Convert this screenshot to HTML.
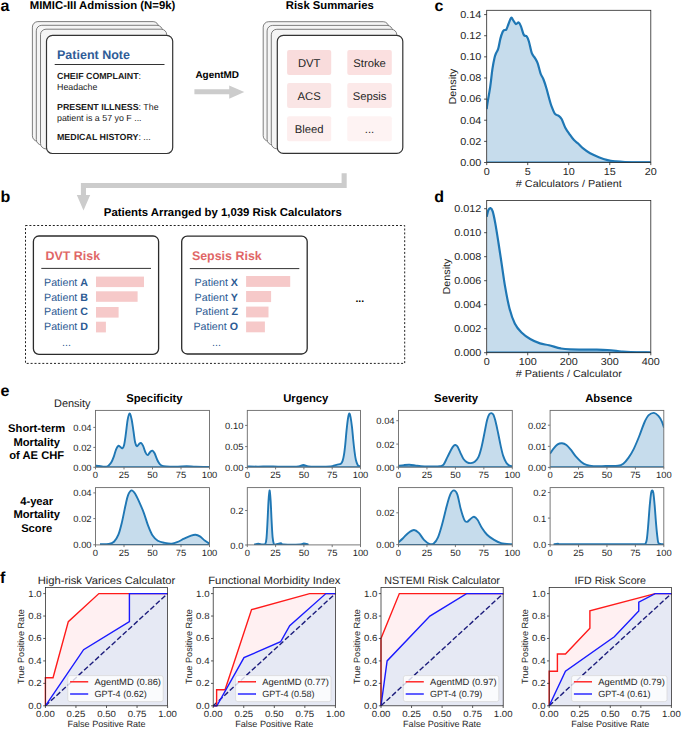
<!DOCTYPE html>
<html><head><meta charset="utf-8"><title>AgentMD figure</title>
<style>
html,body{margin:0;padding:0;background:#fff;}
body{width:685px;height:733px;overflow:hidden;}
svg{display:block;font-family:"Liberation Sans", sans-serif;text-rendering:geometricPrecision;}
</style></head>
<body>
<svg width="685" height="733" viewBox="0 0 685 733">
<rect width="685" height="733" fill="#fff"/>
<text x="0.60" y="10.60" font-size="16" font-weight="bold" fill="#000">a</text>
<text x="29.70" y="8.80" font-size="11.36" font-weight="bold" fill="#000">MIMIC-III Admission (N=9k)</text>
<text x="285.80" y="8.80" font-size="11.31" font-weight="bold" fill="#000">Risk Summaries</text>
<rect x="32.40" y="21.60" width="126.20" height="119.70" rx="5.5" fill="#f5f5f5" stroke="#707070" stroke-width="0.9"/>
<rect x="36.30" y="25.30" width="126.20" height="119.70" rx="5.5" fill="#f5f5f5" stroke="#707070" stroke-width="0.9"/>
<rect x="40.50" y="29.20" width="126.20" height="119.70" rx="5.5" fill="#f5f5f5" stroke="#707070" stroke-width="0.9"/>
<rect x="46.50" y="35.30" width="126.20" height="118.20" rx="6" fill="#fff" stroke="#333" stroke-width="1.2"/>
<rect x="263.20" y="21.70" width="125.50" height="119.50" rx="5.5" fill="#f5f5f5" stroke="#707070" stroke-width="0.9"/>
<rect x="267.10" y="25.40" width="125.50" height="119.50" rx="5.5" fill="#f5f5f5" stroke="#707070" stroke-width="0.9"/>
<rect x="271.30" y="29.30" width="125.50" height="119.50" rx="5.5" fill="#f5f5f5" stroke="#707070" stroke-width="0.9"/>
<rect x="277.30" y="35.40" width="125.50" height="118.00" rx="6" fill="#fff" stroke="#333" stroke-width="1.2"/>
<text x="57.00" y="58.80" font-size="12.5" font-weight="bold" fill="#2f5c97">Patient Note</text>
<line x1="54.70" y1="64.50" x2="164.50" y2="64.50" stroke="#333" stroke-width="1"/>
<text x="57" y="79" font-size="8.85" fill="#1a1a1a"><tspan font-weight="bold">CHEIF COMPLAINT</tspan>:</text>
<text x="57.00" y="89.90" font-size="8.85" fill="#1a1a1a">Headache</text>
<text x="57" y="109.7" font-size="8.85" fill="#1a1a1a"><tspan font-weight="bold">PRESENT ILLNESS</tspan>: The</text>
<text x="57.00" y="120.70" font-size="8.85" fill="#1a1a1a">patient is a 57 yo F ...</text>
<text x="57" y="139.8" font-size="8.85" fill="#1a1a1a"><tspan font-weight="bold">MEDICAL HISTORY</tspan>: ...</text>
<rect x="287.10" y="50.00" width="44.10" height="25.10" rx="2" fill="#f9dcdc" stroke="none" stroke-width="1"/>
<text x="309.15" y="66.55" font-size="11.25" fill="#262626" text-anchor="middle">DVT</text>
<rect x="347.30" y="50.00" width="44.50" height="25.10" rx="2" fill="#fbe0e0" stroke="none" stroke-width="1"/>
<text x="369.55" y="66.55" font-size="11.25" fill="#262626" text-anchor="middle">Stroke</text>
<rect x="287.10" y="83.00" width="44.10" height="25.00" rx="2" fill="#fae5e5" stroke="none" stroke-width="1"/>
<text x="309.15" y="99.50" font-size="11.25" fill="#262626" text-anchor="middle">ACS</text>
<rect x="347.30" y="83.00" width="44.50" height="25.00" rx="2" fill="#fce9e9" stroke="none" stroke-width="1"/>
<text x="369.55" y="99.50" font-size="11.25" fill="#262626" text-anchor="middle">Sepsis</text>
<rect x="287.10" y="116.20" width="44.10" height="25.10" rx="2" fill="#fdeeee" stroke="none" stroke-width="1"/>
<text x="309.15" y="132.75" font-size="11.25" fill="#262626" text-anchor="middle">Bleed</text>
<rect x="347.30" y="116.20" width="44.50" height="25.10" rx="2" fill="#fef3f3" stroke="none" stroke-width="1"/>
<text x="369.55" y="132.75" font-size="11.25" fill="#262626" text-anchor="middle">...</text>
<text x="195.40" y="78.30" font-size="9.95" font-weight="bold" fill="#000">AgentMD</text>
<path d="M194.4,89.3 L229.2,89.3 L229.2,85.6 L244.3,92.1 L229.2,98.7 L229.2,94.3 L194.4,94.3 Z" fill="#cccccc"/>
<path d="M341.6,173.3 L346.7,173.3 L346.7,187.9 L86.0,187.9 L86.0,195.0 L90.2,195.0 L83.5,210.4 L76.8,195.0 L80.9,195.0 L80.9,183.0 L341.6,183.0 Z" fill="#cccccc"/>
<text x="0.60" y="202.20" font-size="16" font-weight="bold" fill="#000">b</text>
<text x="103.80" y="216.30" font-size="11.39" font-weight="bold" fill="#000">Patients Arranged by 1,039 Risk Calculators</text>
<rect x="25.50" y="225.50" width="379.20" height="137.90" rx="0" fill="none" stroke="#222" stroke-width="1" stroke-dasharray="2.0,1.9"/>
<rect x="33.40" y="236.00" width="125.20" height="118.30" rx="5.5" fill="#fff" stroke="#2b2b2b" stroke-width="1.3"/>
<text x="45.50" y="259.90" font-size="12.45" font-weight="bold" fill="#e06666">DVT Risk</text>
<line x1="41.30" y1="268.40" x2="151.00" y2="268.40" stroke="#333" stroke-width="1"/>
<text x="88.00" y="285.90" font-size="10.7" fill="#2c5a93" text-anchor="end">Patient <tspan font-weight="bold">A</tspan></text>
<rect x="96.00" y="276.60" width="48.00" height="10.50" rx="0" fill="#f6c9c9" stroke="none" stroke-width="1"/>
<text x="88.00" y="300.50" font-size="10.7" fill="#2c5a93" text-anchor="end">Patient <tspan font-weight="bold">B</tspan></text>
<rect x="96.00" y="291.30" width="41.60" height="10.50" rx="0" fill="#f6c9c9" stroke="none" stroke-width="1"/>
<text x="88.00" y="315.30" font-size="10.7" fill="#2c5a93" text-anchor="end">Patient <tspan font-weight="bold">C</tspan></text>
<rect x="96.00" y="307.00" width="22.60" height="10.60" rx="0" fill="#f6c9c9" stroke="none" stroke-width="1"/>
<text x="88.00" y="330.10" font-size="10.7" fill="#2c5a93" text-anchor="end">Patient <tspan font-weight="bold">D</tspan></text>
<rect x="96.00" y="321.70" width="9.90" height="10.70" rx="0" fill="#f6c9c9" stroke="none" stroke-width="1"/>
<text x="62.00" y="345.80" font-size="10.7" fill="#2c5a93">...</text>
<rect x="181.70" y="236.10" width="125.50" height="117.90" rx="5.5" fill="#fff" stroke="#2b2b2b" stroke-width="1.3"/>
<text x="191.90" y="259.90" font-size="12.45" font-weight="bold" fill="#e06666">Sepsis Risk</text>
<line x1="189.80" y1="268.60" x2="299.30" y2="268.60" stroke="#333" stroke-width="1"/>
<text x="238.00" y="285.90" font-size="10.7" fill="#2c5a93" text-anchor="end">Patient <tspan font-weight="bold">X</tspan></text>
<rect x="246.10" y="276.00" width="44.10" height="10.90" rx="0" fill="#f6c9c9" stroke="none" stroke-width="1"/>
<text x="238.00" y="300.50" font-size="10.7" fill="#2c5a93" text-anchor="end">Patient <tspan font-weight="bold">Y</tspan></text>
<rect x="246.10" y="291.00" width="25.00" height="11.10" rx="0" fill="#f6c9c9" stroke="none" stroke-width="1"/>
<text x="238.00" y="315.30" font-size="10.7" fill="#2c5a93" text-anchor="end">Patient <tspan font-weight="bold">Z</tspan></text>
<rect x="246.10" y="306.60" width="22.40" height="10.80" rx="0" fill="#f6c9c9" stroke="none" stroke-width="1"/>
<text x="238.00" y="330.10" font-size="10.7" fill="#2c5a93" text-anchor="end">Patient <tspan font-weight="bold">O</tspan></text>
<rect x="246.10" y="321.50" width="18.80" height="10.80" rx="0" fill="#f6c9c9" stroke="none" stroke-width="1"/>
<text x="212.00" y="345.80" font-size="10.7" fill="#2c5a93">...</text>
<text x="355.40" y="302.30" font-size="10.5" font-weight="bold" fill="#000">...</text>
<text x="434.40" y="10.70" font-size="16" font-weight="bold" fill="#000">c</text>
<text x="434.20" y="202.00" font-size="16" font-weight="bold" fill="#000">d</text>
<clipPath id="c1"><rect x="486.70" y="10.30" width="164.10" height="152.20"/></clipPath>
<g clip-path="url(#c1)">
<path d="M486.70,109.00 C486.80,108.22 486.72,108.00 487.30,104.30 C487.88,100.60 489.35,92.65 490.20,86.80 C491.05,80.95 491.67,74.07 492.40,69.20 C493.13,64.33 493.98,60.27 494.60,57.60 C495.22,54.93 495.50,54.67 496.10,53.20 C496.70,51.73 497.48,51.23 498.20,48.80 C498.92,46.37 499.67,41.40 500.40,38.60 C501.13,35.80 501.98,33.42 502.60,32.00 C503.22,30.58 503.48,30.52 504.10,30.10 C504.72,29.68 505.57,30.52 506.30,29.50 C507.03,28.48 507.70,25.95 508.50,24.00 C509.30,22.05 510.30,18.42 511.10,17.80 C511.90,17.18 512.52,19.27 513.30,20.30 C514.08,21.33 514.90,23.63 515.80,24.00 C516.70,24.37 517.85,22.13 518.70,22.50 C519.55,22.87 520.05,24.13 520.90,26.20 C521.75,28.27 522.83,33.20 523.80,34.90 C524.77,36.60 525.85,35.30 526.70,36.40 C527.55,37.50 528.05,38.70 528.90,41.50 C529.75,44.30 530.83,50.52 531.80,53.20 C532.77,55.88 533.72,55.90 534.70,57.60 C535.68,59.30 536.72,60.73 537.70,63.40 C538.68,66.07 539.63,70.92 540.60,73.60 C541.57,76.28 542.53,77.07 543.50,79.50 C544.47,81.93 545.38,84.78 546.40,88.20 C547.42,91.62 548.77,97.07 549.60,100.00 C550.43,102.93 550.50,103.48 551.40,105.80 C552.30,108.12 553.78,112.23 555.00,113.90 C556.22,115.57 557.60,114.95 558.70,115.80 C559.80,116.65 560.50,117.02 561.60,119.00 C562.70,120.98 563.97,125.15 565.30,127.70 C566.63,130.25 568.15,132.23 569.60,134.30 C571.05,136.37 572.53,138.52 574.00,140.10 C575.47,141.68 576.93,142.45 578.40,143.80 C579.87,145.15 580.85,146.62 582.80,148.20 C584.75,149.78 587.43,151.80 590.10,153.30 C592.77,154.80 595.88,156.07 598.80,157.20 C601.72,158.33 604.92,159.42 607.60,160.10 C610.28,160.78 612.00,160.98 614.90,161.30 C617.80,161.62 619.02,161.82 625.00,162.00 C630.98,162.18 646.50,162.33 650.80,162.40 L650.80,162.50 L486.70,162.50 Z" fill="#c6dcec" stroke="none"/>
<line x1="486.70" y1="162.50" x2="650.80" y2="162.50" stroke="#1f77b4" stroke-width="2.2"/>
<path d="M486.70,109.00 C486.80,108.22 486.72,108.00 487.30,104.30 C487.88,100.60 489.35,92.65 490.20,86.80 C491.05,80.95 491.67,74.07 492.40,69.20 C493.13,64.33 493.98,60.27 494.60,57.60 C495.22,54.93 495.50,54.67 496.10,53.20 C496.70,51.73 497.48,51.23 498.20,48.80 C498.92,46.37 499.67,41.40 500.40,38.60 C501.13,35.80 501.98,33.42 502.60,32.00 C503.22,30.58 503.48,30.52 504.10,30.10 C504.72,29.68 505.57,30.52 506.30,29.50 C507.03,28.48 507.70,25.95 508.50,24.00 C509.30,22.05 510.30,18.42 511.10,17.80 C511.90,17.18 512.52,19.27 513.30,20.30 C514.08,21.33 514.90,23.63 515.80,24.00 C516.70,24.37 517.85,22.13 518.70,22.50 C519.55,22.87 520.05,24.13 520.90,26.20 C521.75,28.27 522.83,33.20 523.80,34.90 C524.77,36.60 525.85,35.30 526.70,36.40 C527.55,37.50 528.05,38.70 528.90,41.50 C529.75,44.30 530.83,50.52 531.80,53.20 C532.77,55.88 533.72,55.90 534.70,57.60 C535.68,59.30 536.72,60.73 537.70,63.40 C538.68,66.07 539.63,70.92 540.60,73.60 C541.57,76.28 542.53,77.07 543.50,79.50 C544.47,81.93 545.38,84.78 546.40,88.20 C547.42,91.62 548.77,97.07 549.60,100.00 C550.43,102.93 550.50,103.48 551.40,105.80 C552.30,108.12 553.78,112.23 555.00,113.90 C556.22,115.57 557.60,114.95 558.70,115.80 C559.80,116.65 560.50,117.02 561.60,119.00 C562.70,120.98 563.97,125.15 565.30,127.70 C566.63,130.25 568.15,132.23 569.60,134.30 C571.05,136.37 572.53,138.52 574.00,140.10 C575.47,141.68 576.93,142.45 578.40,143.80 C579.87,145.15 580.85,146.62 582.80,148.20 C584.75,149.78 587.43,151.80 590.10,153.30 C592.77,154.80 595.88,156.07 598.80,157.20 C601.72,158.33 604.92,159.42 607.60,160.10 C610.28,160.78 612.00,160.98 614.90,161.30 C617.80,161.62 619.02,161.82 625.00,162.00 C630.98,162.18 646.50,162.33 650.80,162.40" fill="none" stroke="#1f77b4" stroke-width="2.2" stroke-linejoin="round" stroke-linecap="butt"/>
</g>
<rect x="486.70" y="10.30" width="164.10" height="152.20" fill="none" stroke="#262626" stroke-width="0.8"/>
<line x1="484.10" y1="162.50" x2="486.70" y2="162.50" stroke="#262626" stroke-width="0.8"/>
<text x="481.30" y="165.85" font-size="10.09" fill="#262626" text-anchor="end" textLength="21.04" lengthAdjust="spacingAndGlyphs">0.00</text>
<line x1="484.10" y1="141.37" x2="486.70" y2="141.37" stroke="#262626" stroke-width="0.8"/>
<text x="481.30" y="144.72" font-size="10.09" fill="#262626" text-anchor="end" textLength="21.04" lengthAdjust="spacingAndGlyphs">0.02</text>
<line x1="484.10" y1="120.24" x2="486.70" y2="120.24" stroke="#262626" stroke-width="0.8"/>
<text x="481.30" y="123.59" font-size="10.09" fill="#262626" text-anchor="end" textLength="21.04" lengthAdjust="spacingAndGlyphs">0.04</text>
<line x1="484.10" y1="99.11" x2="486.70" y2="99.11" stroke="#262626" stroke-width="0.8"/>
<text x="481.30" y="102.46" font-size="10.09" fill="#262626" text-anchor="end" textLength="21.04" lengthAdjust="spacingAndGlyphs">0.06</text>
<line x1="484.10" y1="77.98" x2="486.70" y2="77.98" stroke="#262626" stroke-width="0.8"/>
<text x="481.30" y="81.33" font-size="10.09" fill="#262626" text-anchor="end" textLength="21.04" lengthAdjust="spacingAndGlyphs">0.08</text>
<line x1="484.10" y1="56.85" x2="486.70" y2="56.85" stroke="#262626" stroke-width="0.8"/>
<text x="481.30" y="60.20" font-size="10.09" fill="#262626" text-anchor="end" textLength="21.04" lengthAdjust="spacingAndGlyphs">0.10</text>
<line x1="484.10" y1="35.72" x2="486.70" y2="35.72" stroke="#262626" stroke-width="0.8"/>
<text x="481.30" y="39.07" font-size="10.09" fill="#262626" text-anchor="end" textLength="21.04" lengthAdjust="spacingAndGlyphs">0.12</text>
<line x1="484.10" y1="14.59" x2="486.70" y2="14.59" stroke="#262626" stroke-width="0.8"/>
<text x="481.30" y="17.94" font-size="10.09" fill="#262626" text-anchor="end" textLength="21.04" lengthAdjust="spacingAndGlyphs">0.14</text>
<line x1="486.70" y1="162.50" x2="486.70" y2="165.10" stroke="#262626" stroke-width="0.8"/>
<text x="486.70" y="174.60" font-size="10.09" fill="#262626" text-anchor="middle" textLength="6.01" lengthAdjust="spacingAndGlyphs">0</text>
<line x1="527.73" y1="162.50" x2="527.73" y2="165.10" stroke="#262626" stroke-width="0.8"/>
<text x="527.73" y="174.60" font-size="10.09" fill="#262626" text-anchor="middle" textLength="6.01" lengthAdjust="spacingAndGlyphs">5</text>
<line x1="568.75" y1="162.50" x2="568.75" y2="165.10" stroke="#262626" stroke-width="0.8"/>
<text x="568.75" y="174.60" font-size="10.09" fill="#262626" text-anchor="middle" textLength="12.02" lengthAdjust="spacingAndGlyphs">10</text>
<line x1="609.77" y1="162.50" x2="609.77" y2="165.10" stroke="#262626" stroke-width="0.8"/>
<text x="609.77" y="174.60" font-size="10.09" fill="#262626" text-anchor="middle" textLength="12.02" lengthAdjust="spacingAndGlyphs">15</text>
<line x1="650.80" y1="162.50" x2="650.80" y2="165.10" stroke="#262626" stroke-width="0.8"/>
<text x="650.80" y="174.60" font-size="10.09" fill="#262626" text-anchor="middle" textLength="12.02" lengthAdjust="spacingAndGlyphs">20</text>
<text x="568.80" y="187.20" font-size="10.09" fill="#262626" text-anchor="middle" textLength="105.93" lengthAdjust="spacingAndGlyphs"># Calculators / Patient</text>
<text x="0.00" y="0.00" font-size="10.09" fill="#262626" text-anchor="middle" textLength="35.93" lengthAdjust="spacingAndGlyphs" transform="translate(455.8,86.5) rotate(-90)">Density</text>
<clipPath id="c2"><rect x="486.70" y="200.50" width="164.10" height="152.20"/></clipPath>
<g clip-path="url(#c2)">
<path d="M486.70,216.80 C486.97,215.72 487.67,211.75 488.30,210.30 C488.93,208.85 489.77,207.92 490.50,208.10 C491.23,208.28 491.90,208.85 492.70,211.40 C493.50,213.95 494.33,218.13 495.30,223.40 C496.27,228.67 497.42,236.10 498.50,243.00 C499.58,249.90 500.70,257.53 501.80,264.80 C502.90,272.07 503.82,279.32 505.10,286.60 C506.38,293.88 507.87,302.32 509.50,308.50 C511.13,314.68 512.90,319.70 514.90,323.70 C516.90,327.70 518.95,329.95 521.50,332.50 C524.05,335.05 527.12,337.18 530.20,339.00 C533.28,340.82 536.87,342.37 540.00,343.40 C543.13,344.43 545.55,344.37 549.00,345.20 C552.45,346.03 557.20,347.70 560.70,348.40 C564.20,349.10 564.55,349.20 570.00,349.40 C575.45,349.60 587.15,349.50 593.40,349.60 C599.65,349.70 602.82,349.68 607.50,350.00 C612.18,350.32 617.62,351.15 621.50,351.50 C625.38,351.85 625.92,351.93 630.80,352.10 C635.68,352.27 647.47,352.43 650.80,352.50 L650.80,352.70 L486.70,352.70 Z" fill="#c6dcec" stroke="none"/>
<line x1="486.70" y1="352.70" x2="650.80" y2="352.70" stroke="#1f77b4" stroke-width="2.2"/>
<path d="M486.70,216.80 C486.97,215.72 487.67,211.75 488.30,210.30 C488.93,208.85 489.77,207.92 490.50,208.10 C491.23,208.28 491.90,208.85 492.70,211.40 C493.50,213.95 494.33,218.13 495.30,223.40 C496.27,228.67 497.42,236.10 498.50,243.00 C499.58,249.90 500.70,257.53 501.80,264.80 C502.90,272.07 503.82,279.32 505.10,286.60 C506.38,293.88 507.87,302.32 509.50,308.50 C511.13,314.68 512.90,319.70 514.90,323.70 C516.90,327.70 518.95,329.95 521.50,332.50 C524.05,335.05 527.12,337.18 530.20,339.00 C533.28,340.82 536.87,342.37 540.00,343.40 C543.13,344.43 545.55,344.37 549.00,345.20 C552.45,346.03 557.20,347.70 560.70,348.40 C564.20,349.10 564.55,349.20 570.00,349.40 C575.45,349.60 587.15,349.50 593.40,349.60 C599.65,349.70 602.82,349.68 607.50,350.00 C612.18,350.32 617.62,351.15 621.50,351.50 C625.38,351.85 625.92,351.93 630.80,352.10 C635.68,352.27 647.47,352.43 650.80,352.50" fill="none" stroke="#1f77b4" stroke-width="2.2" stroke-linejoin="round" stroke-linecap="butt"/>
</g>
<rect x="486.70" y="200.50" width="164.10" height="152.20" fill="none" stroke="#262626" stroke-width="0.8"/>
<line x1="484.10" y1="352.70" x2="486.70" y2="352.70" stroke="#262626" stroke-width="0.8"/>
<text x="481.30" y="356.05" font-size="10.09" fill="#262626" text-anchor="end" textLength="27.05" lengthAdjust="spacingAndGlyphs">0.000</text>
<line x1="484.10" y1="328.70" x2="486.70" y2="328.70" stroke="#262626" stroke-width="0.8"/>
<text x="481.30" y="332.05" font-size="10.09" fill="#262626" text-anchor="end" textLength="27.05" lengthAdjust="spacingAndGlyphs">0.002</text>
<line x1="484.10" y1="304.70" x2="486.70" y2="304.70" stroke="#262626" stroke-width="0.8"/>
<text x="481.30" y="308.05" font-size="10.09" fill="#262626" text-anchor="end" textLength="27.05" lengthAdjust="spacingAndGlyphs">0.004</text>
<line x1="484.10" y1="280.70" x2="486.70" y2="280.70" stroke="#262626" stroke-width="0.8"/>
<text x="481.30" y="284.05" font-size="10.09" fill="#262626" text-anchor="end" textLength="27.05" lengthAdjust="spacingAndGlyphs">0.006</text>
<line x1="484.10" y1="256.70" x2="486.70" y2="256.70" stroke="#262626" stroke-width="0.8"/>
<text x="481.30" y="260.05" font-size="10.09" fill="#262626" text-anchor="end" textLength="27.05" lengthAdjust="spacingAndGlyphs">0.008</text>
<line x1="484.10" y1="232.70" x2="486.70" y2="232.70" stroke="#262626" stroke-width="0.8"/>
<text x="481.30" y="236.05" font-size="10.09" fill="#262626" text-anchor="end" textLength="27.05" lengthAdjust="spacingAndGlyphs">0.010</text>
<line x1="484.10" y1="208.70" x2="486.70" y2="208.70" stroke="#262626" stroke-width="0.8"/>
<text x="481.30" y="212.05" font-size="10.09" fill="#262626" text-anchor="end" textLength="27.05" lengthAdjust="spacingAndGlyphs">0.012</text>
<line x1="486.70" y1="352.70" x2="486.70" y2="355.30" stroke="#262626" stroke-width="0.8"/>
<text x="486.70" y="364.60" font-size="10.09" fill="#262626" text-anchor="middle" textLength="6.01" lengthAdjust="spacingAndGlyphs">0</text>
<line x1="527.73" y1="352.70" x2="527.73" y2="355.30" stroke="#262626" stroke-width="0.8"/>
<text x="527.73" y="364.60" font-size="10.09" fill="#262626" text-anchor="middle" textLength="18.04" lengthAdjust="spacingAndGlyphs">100</text>
<line x1="568.75" y1="352.70" x2="568.75" y2="355.30" stroke="#262626" stroke-width="0.8"/>
<text x="568.75" y="364.60" font-size="10.09" fill="#262626" text-anchor="middle" textLength="18.04" lengthAdjust="spacingAndGlyphs">200</text>
<line x1="609.77" y1="352.70" x2="609.77" y2="355.30" stroke="#262626" stroke-width="0.8"/>
<text x="609.77" y="364.60" font-size="10.09" fill="#262626" text-anchor="middle" textLength="18.04" lengthAdjust="spacingAndGlyphs">300</text>
<line x1="650.80" y1="352.70" x2="650.80" y2="355.30" stroke="#262626" stroke-width="0.8"/>
<text x="650.80" y="364.60" font-size="10.09" fill="#262626" text-anchor="middle" textLength="18.04" lengthAdjust="spacingAndGlyphs">400</text>
<text x="568.80" y="377.20" font-size="10.09" fill="#262626" text-anchor="middle" textLength="105.93" lengthAdjust="spacingAndGlyphs"># Patients / Calculator</text>
<text x="0.00" y="0.00" font-size="10.09" fill="#262626" text-anchor="middle" textLength="35.93" lengthAdjust="spacingAndGlyphs" transform="translate(450.3,276.5) rotate(-90)">Density</text>
<text x="0.60" y="395.80" font-size="16" font-weight="bold" fill="#000">e</text>
<text x="54.00" y="407.00" font-size="10.95" fill="#1a1a1a">Density</text>
<text x="36.70" y="431.80" font-size="11.2" font-weight="bold" fill="#000" text-anchor="middle">Short-term</text>
<text x="36.70" y="445.70" font-size="11.2" font-weight="bold" fill="#000" text-anchor="middle">Mortality</text>
<text x="36.70" y="458.80" font-size="11.2" font-weight="bold" fill="#000" text-anchor="middle">of AE CHF</text>
<text x="36.70" y="504.50" font-size="11.2" font-weight="bold" fill="#000" text-anchor="middle">4-year</text>
<text x="36.70" y="518.40" font-size="11.2" font-weight="bold" fill="#000" text-anchor="middle">Mortality</text>
<text x="36.70" y="531.80" font-size="11.2" font-weight="bold" fill="#000" text-anchor="middle">Score</text>
<text x="154.40" y="402.20" font-size="11.3" font-weight="bold" fill="#000" text-anchor="middle">Specificity</text>
<text x="305.80" y="402.20" font-size="11.3" font-weight="bold" fill="#000" text-anchor="middle">Urgency</text>
<text x="456.10" y="402.20" font-size="11.3" font-weight="bold" fill="#000" text-anchor="middle">Severity</text>
<text x="608.75" y="402.20" font-size="11.3" font-weight="bold" fill="#000" text-anchor="middle">Absence</text>
<clipPath id="c3"><rect x="95.50" y="410.40" width="114.00" height="56.80"/></clipPath>
<g clip-path="url(#c3)">
<path d="M95.50,465.60 C96.08,465.67 97.75,465.83 99.00,466.00 C100.25,466.17 101.75,466.50 103.00,466.60 C104.25,466.70 105.58,466.77 106.50,466.60 C107.42,466.43 107.72,466.27 108.50,465.60 C109.28,464.93 110.30,464.13 111.20,462.60 C112.10,461.07 113.08,458.62 113.90,456.40 C114.72,454.18 115.37,451.05 116.10,449.30 C116.83,447.55 117.63,446.33 118.30,445.90 C118.97,445.47 119.43,446.30 120.10,446.70 C120.77,447.10 121.63,448.60 122.30,448.30 C122.97,448.00 123.52,447.25 124.10,444.90 C124.68,442.55 125.22,438.33 125.80,434.20 C126.38,430.07 126.97,423.57 127.60,420.10 C128.23,416.63 128.93,413.55 129.60,413.40 C130.27,413.25 130.97,416.32 131.60,419.20 C132.23,422.08 132.82,426.87 133.40,430.70 C133.98,434.53 134.52,439.62 135.10,442.20 C135.68,444.78 136.23,445.90 136.90,446.20 C137.57,446.50 138.43,444.55 139.10,444.00 C139.77,443.45 140.23,442.60 140.90,442.90 C141.57,443.20 142.37,444.28 143.10,445.80 C143.83,447.32 144.57,450.45 145.30,452.00 C146.03,453.55 146.68,455.10 147.50,455.10 C148.32,455.10 149.38,452.75 150.20,452.00 C151.02,451.25 151.67,450.38 152.40,450.60 C153.13,450.82 153.78,451.73 154.60,453.30 C155.42,454.87 156.40,458.15 157.30,460.00 C158.20,461.85 158.97,463.37 160.00,464.40 C161.03,465.43 161.83,465.80 163.50,466.20 C165.17,466.60 167.58,466.72 170.00,466.80 C172.42,466.88 175.22,466.78 178.00,466.70 C180.78,466.62 183.73,466.30 186.70,466.30 C189.67,466.30 192.00,466.60 195.80,466.70 C199.60,466.80 207.22,466.87 209.50,466.90 L209.50,467.20 L95.50,467.20 Z" fill="#c6dcec" stroke="none"/>
<line x1="95.50" y1="467.20" x2="209.50" y2="467.20" stroke="#1f77b4" stroke-width="1.9"/>
<path d="M95.50,465.60 C96.08,465.67 97.75,465.83 99.00,466.00 C100.25,466.17 101.75,466.50 103.00,466.60 C104.25,466.70 105.58,466.77 106.50,466.60 C107.42,466.43 107.72,466.27 108.50,465.60 C109.28,464.93 110.30,464.13 111.20,462.60 C112.10,461.07 113.08,458.62 113.90,456.40 C114.72,454.18 115.37,451.05 116.10,449.30 C116.83,447.55 117.63,446.33 118.30,445.90 C118.97,445.47 119.43,446.30 120.10,446.70 C120.77,447.10 121.63,448.60 122.30,448.30 C122.97,448.00 123.52,447.25 124.10,444.90 C124.68,442.55 125.22,438.33 125.80,434.20 C126.38,430.07 126.97,423.57 127.60,420.10 C128.23,416.63 128.93,413.55 129.60,413.40 C130.27,413.25 130.97,416.32 131.60,419.20 C132.23,422.08 132.82,426.87 133.40,430.70 C133.98,434.53 134.52,439.62 135.10,442.20 C135.68,444.78 136.23,445.90 136.90,446.20 C137.57,446.50 138.43,444.55 139.10,444.00 C139.77,443.45 140.23,442.60 140.90,442.90 C141.57,443.20 142.37,444.28 143.10,445.80 C143.83,447.32 144.57,450.45 145.30,452.00 C146.03,453.55 146.68,455.10 147.50,455.10 C148.32,455.10 149.38,452.75 150.20,452.00 C151.02,451.25 151.67,450.38 152.40,450.60 C153.13,450.82 153.78,451.73 154.60,453.30 C155.42,454.87 156.40,458.15 157.30,460.00 C158.20,461.85 158.97,463.37 160.00,464.40 C161.03,465.43 161.83,465.80 163.50,466.20 C165.17,466.60 167.58,466.72 170.00,466.80 C172.42,466.88 175.22,466.78 178.00,466.70 C180.78,466.62 183.73,466.30 186.70,466.30 C189.67,466.30 192.00,466.60 195.80,466.70 C199.60,466.80 207.22,466.87 209.50,466.90" fill="none" stroke="#1f77b4" stroke-width="1.9" stroke-linejoin="round" stroke-linecap="butt"/>
</g>
<rect x="95.50" y="410.40" width="114.00" height="56.80" fill="none" stroke="#6a6a6a" stroke-width="0.9"/>
<line x1="93.30" y1="467.30" x2="95.50" y2="467.30" stroke="#6a6a6a" stroke-width="0.9"/>
<text x="91.60" y="470.80" font-size="9.1" fill="#262626" text-anchor="end" textLength="18.26" lengthAdjust="spacingAndGlyphs">0.00</text>
<line x1="93.30" y1="447.40" x2="95.50" y2="447.40" stroke="#6a6a6a" stroke-width="0.9"/>
<text x="91.60" y="450.90" font-size="9.1" fill="#262626" text-anchor="end" textLength="18.26" lengthAdjust="spacingAndGlyphs">0.02</text>
<line x1="93.30" y1="427.40" x2="95.50" y2="427.40" stroke="#6a6a6a" stroke-width="0.9"/>
<text x="91.60" y="430.90" font-size="9.1" fill="#262626" text-anchor="end" textLength="18.26" lengthAdjust="spacingAndGlyphs">0.04</text>
<line x1="95.50" y1="467.20" x2="95.50" y2="469.40" stroke="#6a6a6a" stroke-width="0.9"/>
<text x="95.50" y="477.80" font-size="9.1" fill="#262626" text-anchor="middle" textLength="5.22" lengthAdjust="spacingAndGlyphs">0</text>
<line x1="124.00" y1="467.20" x2="124.00" y2="469.40" stroke="#6a6a6a" stroke-width="0.9"/>
<text x="124.00" y="477.80" font-size="9.1" fill="#262626" text-anchor="middle" textLength="10.43" lengthAdjust="spacingAndGlyphs">25</text>
<line x1="152.50" y1="467.20" x2="152.50" y2="469.40" stroke="#6a6a6a" stroke-width="0.9"/>
<text x="152.50" y="477.80" font-size="9.1" fill="#262626" text-anchor="middle" textLength="10.43" lengthAdjust="spacingAndGlyphs">50</text>
<line x1="181.00" y1="467.20" x2="181.00" y2="469.40" stroke="#6a6a6a" stroke-width="0.9"/>
<text x="181.00" y="477.80" font-size="9.1" fill="#262626" text-anchor="middle" textLength="10.43" lengthAdjust="spacingAndGlyphs">75</text>
<line x1="209.50" y1="467.20" x2="209.50" y2="469.40" stroke="#6a6a6a" stroke-width="0.9"/>
<text x="209.50" y="477.80" font-size="9.1" fill="#262626" text-anchor="middle" textLength="15.65" lengthAdjust="spacingAndGlyphs">100</text>
<clipPath id="c4"><rect x="247.30" y="410.40" width="113.20" height="56.80"/></clipPath>
<g clip-path="url(#c4)">
<path d="M247.30,466.40 C249.08,466.43 254.55,466.60 258.00,466.60 C261.45,466.60 264.67,466.40 268.00,466.40 C271.33,466.40 274.33,466.57 278.00,466.60 C281.67,466.63 286.58,466.63 290.00,466.60 C293.42,466.57 296.27,466.67 298.50,466.40 C300.73,466.13 301.73,465.00 303.40,465.00 C305.07,465.00 306.07,466.13 308.50,466.40 C310.93,466.67 314.30,466.60 318.00,466.60 C321.70,466.60 328.00,466.58 330.70,466.40 C333.40,466.22 333.10,465.80 334.20,465.50 C335.30,465.20 336.18,464.88 337.30,464.60 C338.42,464.32 340.02,464.42 340.90,463.80 C341.78,463.18 342.08,462.42 342.60,460.90 C343.12,459.38 343.55,457.50 344.00,454.70 C344.45,451.90 344.87,448.23 345.30,444.10 C345.73,439.97 346.15,434.20 346.60,429.90 C347.05,425.60 347.55,421.05 348.00,418.30 C348.45,415.55 348.87,413.55 349.30,413.40 C349.73,413.25 350.15,415.10 350.60,417.40 C351.05,419.70 351.55,423.35 352.00,427.20 C352.45,431.05 352.87,436.37 353.30,440.50 C353.73,444.63 354.17,448.75 354.60,452.00 C355.03,455.25 355.38,457.85 355.90,460.00 C356.42,462.15 357.03,463.83 357.70,464.90 C358.37,465.97 359.43,466.13 359.90,466.40 C360.37,466.67 360.40,466.48 360.50,466.50 L360.50,467.20 L247.30,467.20 Z" fill="#c6dcec" stroke="none"/>
<line x1="247.30" y1="467.20" x2="360.50" y2="467.20" stroke="#1f77b4" stroke-width="1.9"/>
<path d="M247.30,466.40 C249.08,466.43 254.55,466.60 258.00,466.60 C261.45,466.60 264.67,466.40 268.00,466.40 C271.33,466.40 274.33,466.57 278.00,466.60 C281.67,466.63 286.58,466.63 290.00,466.60 C293.42,466.57 296.27,466.67 298.50,466.40 C300.73,466.13 301.73,465.00 303.40,465.00 C305.07,465.00 306.07,466.13 308.50,466.40 C310.93,466.67 314.30,466.60 318.00,466.60 C321.70,466.60 328.00,466.58 330.70,466.40 C333.40,466.22 333.10,465.80 334.20,465.50 C335.30,465.20 336.18,464.88 337.30,464.60 C338.42,464.32 340.02,464.42 340.90,463.80 C341.78,463.18 342.08,462.42 342.60,460.90 C343.12,459.38 343.55,457.50 344.00,454.70 C344.45,451.90 344.87,448.23 345.30,444.10 C345.73,439.97 346.15,434.20 346.60,429.90 C347.05,425.60 347.55,421.05 348.00,418.30 C348.45,415.55 348.87,413.55 349.30,413.40 C349.73,413.25 350.15,415.10 350.60,417.40 C351.05,419.70 351.55,423.35 352.00,427.20 C352.45,431.05 352.87,436.37 353.30,440.50 C353.73,444.63 354.17,448.75 354.60,452.00 C355.03,455.25 355.38,457.85 355.90,460.00 C356.42,462.15 357.03,463.83 357.70,464.90 C358.37,465.97 359.43,466.13 359.90,466.40 C360.37,466.67 360.40,466.48 360.50,466.50" fill="none" stroke="#1f77b4" stroke-width="1.9" stroke-linejoin="round" stroke-linecap="butt"/>
</g>
<rect x="247.30" y="410.40" width="113.20" height="56.80" fill="none" stroke="#6a6a6a" stroke-width="0.9"/>
<line x1="245.10" y1="467.50" x2="247.30" y2="467.50" stroke="#6a6a6a" stroke-width="0.9"/>
<text x="243.40" y="471.00" font-size="9.1" fill="#262626" text-anchor="end" textLength="18.26" lengthAdjust="spacingAndGlyphs">0.00</text>
<line x1="245.10" y1="446.60" x2="247.30" y2="446.60" stroke="#6a6a6a" stroke-width="0.9"/>
<text x="243.40" y="450.10" font-size="9.1" fill="#262626" text-anchor="end" textLength="18.26" lengthAdjust="spacingAndGlyphs">0.05</text>
<line x1="245.10" y1="425.40" x2="247.30" y2="425.40" stroke="#6a6a6a" stroke-width="0.9"/>
<text x="243.40" y="428.90" font-size="9.1" fill="#262626" text-anchor="end" textLength="18.26" lengthAdjust="spacingAndGlyphs">0.10</text>
<line x1="247.30" y1="467.20" x2="247.30" y2="469.40" stroke="#6a6a6a" stroke-width="0.9"/>
<text x="247.30" y="477.80" font-size="9.1" fill="#262626" text-anchor="middle" textLength="5.22" lengthAdjust="spacingAndGlyphs">0</text>
<line x1="275.60" y1="467.20" x2="275.60" y2="469.40" stroke="#6a6a6a" stroke-width="0.9"/>
<text x="275.60" y="477.80" font-size="9.1" fill="#262626" text-anchor="middle" textLength="10.43" lengthAdjust="spacingAndGlyphs">25</text>
<line x1="303.90" y1="467.20" x2="303.90" y2="469.40" stroke="#6a6a6a" stroke-width="0.9"/>
<text x="303.90" y="477.80" font-size="9.1" fill="#262626" text-anchor="middle" textLength="10.43" lengthAdjust="spacingAndGlyphs">50</text>
<line x1="332.20" y1="467.20" x2="332.20" y2="469.40" stroke="#6a6a6a" stroke-width="0.9"/>
<text x="332.20" y="477.80" font-size="9.1" fill="#262626" text-anchor="middle" textLength="10.43" lengthAdjust="spacingAndGlyphs">75</text>
<line x1="360.50" y1="467.20" x2="360.50" y2="469.40" stroke="#6a6a6a" stroke-width="0.9"/>
<text x="360.50" y="477.80" font-size="9.1" fill="#262626" text-anchor="middle" textLength="15.65" lengthAdjust="spacingAndGlyphs">100</text>
<clipPath id="c5"><rect x="398.50" y="410.40" width="113.80" height="56.80"/></clipPath>
<g clip-path="url(#c5)">
<path d="M398.50,465.80 C399.42,465.68 402.18,465.27 404.00,465.10 C405.82,464.93 407.57,464.75 409.40,464.80 C411.23,464.85 413.07,465.15 415.00,465.40 C416.93,465.65 418.50,466.12 421.00,466.30 C423.50,466.48 426.85,466.50 430.00,466.50 C433.15,466.50 437.63,466.62 439.90,466.30 C442.17,465.98 442.35,466.13 443.60,464.60 C444.85,463.07 446.15,459.58 447.40,457.10 C448.65,454.62 450.07,451.57 451.10,449.70 C452.13,447.83 452.88,446.68 453.60,445.90 C454.32,445.12 454.75,444.88 455.40,445.00 C456.05,445.12 456.67,445.30 457.50,446.60 C458.33,447.90 459.40,450.73 460.40,452.80 C461.40,454.87 462.37,457.42 463.50,459.00 C464.63,460.58 465.97,461.62 467.20,462.30 C468.43,462.98 469.65,463.18 470.90,463.10 C472.15,463.02 473.45,462.80 474.70,461.80 C475.95,460.80 477.27,459.53 478.40,457.10 C479.53,454.67 480.47,451.33 481.50,447.20 C482.53,443.07 483.67,436.85 484.60,432.30 C485.53,427.75 486.32,422.90 487.10,419.90 C487.88,416.90 488.58,415.43 489.30,414.30 C490.02,413.17 490.70,413.00 491.40,413.10 C492.10,413.20 492.77,413.35 493.50,414.90 C494.23,416.45 495.02,419.30 495.80,422.40 C496.58,425.50 497.38,429.58 498.20,433.50 C499.02,437.42 499.87,442.17 500.70,445.90 C501.53,449.63 502.27,453.10 503.20,455.90 C504.13,458.70 505.27,461.08 506.30,462.70 C507.33,464.32 508.40,464.98 509.40,465.60 C510.40,466.22 511.82,466.27 512.30,466.40 L512.30,467.20 L398.50,467.20 Z" fill="#c6dcec" stroke="none"/>
<line x1="398.50" y1="467.20" x2="512.30" y2="467.20" stroke="#1f77b4" stroke-width="1.9"/>
<path d="M398.50,465.80 C399.42,465.68 402.18,465.27 404.00,465.10 C405.82,464.93 407.57,464.75 409.40,464.80 C411.23,464.85 413.07,465.15 415.00,465.40 C416.93,465.65 418.50,466.12 421.00,466.30 C423.50,466.48 426.85,466.50 430.00,466.50 C433.15,466.50 437.63,466.62 439.90,466.30 C442.17,465.98 442.35,466.13 443.60,464.60 C444.85,463.07 446.15,459.58 447.40,457.10 C448.65,454.62 450.07,451.57 451.10,449.70 C452.13,447.83 452.88,446.68 453.60,445.90 C454.32,445.12 454.75,444.88 455.40,445.00 C456.05,445.12 456.67,445.30 457.50,446.60 C458.33,447.90 459.40,450.73 460.40,452.80 C461.40,454.87 462.37,457.42 463.50,459.00 C464.63,460.58 465.97,461.62 467.20,462.30 C468.43,462.98 469.65,463.18 470.90,463.10 C472.15,463.02 473.45,462.80 474.70,461.80 C475.95,460.80 477.27,459.53 478.40,457.10 C479.53,454.67 480.47,451.33 481.50,447.20 C482.53,443.07 483.67,436.85 484.60,432.30 C485.53,427.75 486.32,422.90 487.10,419.90 C487.88,416.90 488.58,415.43 489.30,414.30 C490.02,413.17 490.70,413.00 491.40,413.10 C492.10,413.20 492.77,413.35 493.50,414.90 C494.23,416.45 495.02,419.30 495.80,422.40 C496.58,425.50 497.38,429.58 498.20,433.50 C499.02,437.42 499.87,442.17 500.70,445.90 C501.53,449.63 502.27,453.10 503.20,455.90 C504.13,458.70 505.27,461.08 506.30,462.70 C507.33,464.32 508.40,464.98 509.40,465.60 C510.40,466.22 511.82,466.27 512.30,466.40" fill="none" stroke="#1f77b4" stroke-width="1.9" stroke-linejoin="round" stroke-linecap="butt"/>
</g>
<rect x="398.50" y="410.40" width="113.80" height="56.80" fill="none" stroke="#6a6a6a" stroke-width="0.9"/>
<line x1="396.30" y1="467.10" x2="398.50" y2="467.10" stroke="#6a6a6a" stroke-width="0.9"/>
<text x="394.60" y="470.60" font-size="9.1" fill="#262626" text-anchor="end" textLength="18.26" lengthAdjust="spacingAndGlyphs">0.00</text>
<line x1="396.30" y1="444.10" x2="398.50" y2="444.10" stroke="#6a6a6a" stroke-width="0.9"/>
<text x="394.60" y="447.60" font-size="9.1" fill="#262626" text-anchor="end" textLength="18.26" lengthAdjust="spacingAndGlyphs">0.02</text>
<line x1="396.30" y1="420.70" x2="398.50" y2="420.70" stroke="#6a6a6a" stroke-width="0.9"/>
<text x="394.60" y="424.20" font-size="9.1" fill="#262626" text-anchor="end" textLength="18.26" lengthAdjust="spacingAndGlyphs">0.04</text>
<line x1="398.50" y1="467.20" x2="398.50" y2="469.40" stroke="#6a6a6a" stroke-width="0.9"/>
<text x="398.50" y="477.80" font-size="9.1" fill="#262626" text-anchor="middle" textLength="5.22" lengthAdjust="spacingAndGlyphs">0</text>
<line x1="426.95" y1="467.20" x2="426.95" y2="469.40" stroke="#6a6a6a" stroke-width="0.9"/>
<text x="426.95" y="477.80" font-size="9.1" fill="#262626" text-anchor="middle" textLength="10.43" lengthAdjust="spacingAndGlyphs">25</text>
<line x1="455.40" y1="467.20" x2="455.40" y2="469.40" stroke="#6a6a6a" stroke-width="0.9"/>
<text x="455.40" y="477.80" font-size="9.1" fill="#262626" text-anchor="middle" textLength="10.43" lengthAdjust="spacingAndGlyphs">50</text>
<line x1="483.85" y1="467.20" x2="483.85" y2="469.40" stroke="#6a6a6a" stroke-width="0.9"/>
<text x="483.85" y="477.80" font-size="9.1" fill="#262626" text-anchor="middle" textLength="10.43" lengthAdjust="spacingAndGlyphs">75</text>
<line x1="512.30" y1="467.20" x2="512.30" y2="469.40" stroke="#6a6a6a" stroke-width="0.9"/>
<text x="512.30" y="477.80" font-size="9.1" fill="#262626" text-anchor="middle" textLength="15.65" lengthAdjust="spacingAndGlyphs">100</text>
<clipPath id="c6"><rect x="550.10" y="410.40" width="113.70" height="56.80"/></clipPath>
<g clip-path="url(#c6)">
<path d="M550.10,453.70 C550.63,452.88 552.05,450.35 553.30,448.80 C554.55,447.25 556.15,445.33 557.60,444.40 C559.05,443.47 560.53,443.10 562.00,443.20 C563.47,443.30 564.93,443.92 566.40,445.00 C567.87,446.08 569.20,447.75 570.80,449.70 C572.40,451.65 574.25,454.67 576.00,456.70 C577.75,458.73 579.55,460.53 581.30,461.90 C583.05,463.27 584.47,464.20 586.50,464.90 C588.53,465.60 590.28,465.92 593.50,466.10 C596.72,466.28 601.70,466.05 605.80,466.00 C609.90,465.95 615.18,466.18 618.10,465.80 C621.02,465.42 621.55,465.07 623.30,463.70 C625.05,462.33 626.85,460.08 628.60,457.60 C630.35,455.12 632.05,452.32 633.80,448.80 C635.55,445.28 637.33,440.88 639.10,436.50 C640.87,432.12 642.80,426.05 644.40,422.50 C646.00,418.95 647.10,416.80 648.70,415.20 C650.30,413.60 652.38,412.78 654.00,412.90 C655.62,413.02 657.08,414.45 658.40,415.90 C659.72,417.35 660.97,419.62 661.90,421.60 C662.83,423.58 663.65,426.77 664.00,427.80 L664.00,467.20 L550.10,467.20 Z" fill="#c6dcec" stroke="none"/>
<line x1="550.10" y1="467.20" x2="664.00" y2="467.20" stroke="#1f77b4" stroke-width="1.9"/>
<path d="M550.10,453.70 C550.63,452.88 552.05,450.35 553.30,448.80 C554.55,447.25 556.15,445.33 557.60,444.40 C559.05,443.47 560.53,443.10 562.00,443.20 C563.47,443.30 564.93,443.92 566.40,445.00 C567.87,446.08 569.20,447.75 570.80,449.70 C572.40,451.65 574.25,454.67 576.00,456.70 C577.75,458.73 579.55,460.53 581.30,461.90 C583.05,463.27 584.47,464.20 586.50,464.90 C588.53,465.60 590.28,465.92 593.50,466.10 C596.72,466.28 601.70,466.05 605.80,466.00 C609.90,465.95 615.18,466.18 618.10,465.80 C621.02,465.42 621.55,465.07 623.30,463.70 C625.05,462.33 626.85,460.08 628.60,457.60 C630.35,455.12 632.05,452.32 633.80,448.80 C635.55,445.28 637.33,440.88 639.10,436.50 C640.87,432.12 642.80,426.05 644.40,422.50 C646.00,418.95 647.10,416.80 648.70,415.20 C650.30,413.60 652.38,412.78 654.00,412.90 C655.62,413.02 657.08,414.45 658.40,415.90 C659.72,417.35 660.97,419.62 661.90,421.60 C662.83,423.58 663.65,426.77 664.00,427.80" fill="none" stroke="#1f77b4" stroke-width="1.9" stroke-linejoin="round" stroke-linecap="butt"/>
</g>
<rect x="550.10" y="410.40" width="113.70" height="56.80" fill="none" stroke="#6a6a6a" stroke-width="0.9"/>
<line x1="547.90" y1="467.40" x2="550.10" y2="467.40" stroke="#6a6a6a" stroke-width="0.9"/>
<text x="546.20" y="470.90" font-size="9.1" fill="#262626" text-anchor="end" textLength="18.26" lengthAdjust="spacingAndGlyphs">0.00</text>
<line x1="547.90" y1="446.40" x2="550.10" y2="446.40" stroke="#6a6a6a" stroke-width="0.9"/>
<text x="546.20" y="449.90" font-size="9.1" fill="#262626" text-anchor="end" textLength="18.26" lengthAdjust="spacingAndGlyphs">0.01</text>
<line x1="547.90" y1="425.20" x2="550.10" y2="425.20" stroke="#6a6a6a" stroke-width="0.9"/>
<text x="546.20" y="428.70" font-size="9.1" fill="#262626" text-anchor="end" textLength="18.26" lengthAdjust="spacingAndGlyphs">0.02</text>
<line x1="550.10" y1="467.20" x2="550.10" y2="469.40" stroke="#6a6a6a" stroke-width="0.9"/>
<text x="550.10" y="477.80" font-size="9.1" fill="#262626" text-anchor="middle" textLength="5.22" lengthAdjust="spacingAndGlyphs">0</text>
<line x1="578.52" y1="467.20" x2="578.52" y2="469.40" stroke="#6a6a6a" stroke-width="0.9"/>
<text x="578.52" y="477.80" font-size="9.1" fill="#262626" text-anchor="middle" textLength="10.43" lengthAdjust="spacingAndGlyphs">25</text>
<line x1="606.95" y1="467.20" x2="606.95" y2="469.40" stroke="#6a6a6a" stroke-width="0.9"/>
<text x="606.95" y="477.80" font-size="9.1" fill="#262626" text-anchor="middle" textLength="10.43" lengthAdjust="spacingAndGlyphs">50</text>
<line x1="635.38" y1="467.20" x2="635.38" y2="469.40" stroke="#6a6a6a" stroke-width="0.9"/>
<text x="635.38" y="477.80" font-size="9.1" fill="#262626" text-anchor="middle" textLength="10.43" lengthAdjust="spacingAndGlyphs">75</text>
<line x1="663.80" y1="467.20" x2="663.80" y2="469.40" stroke="#6a6a6a" stroke-width="0.9"/>
<text x="663.80" y="477.80" font-size="9.1" fill="#262626" text-anchor="middle" textLength="15.65" lengthAdjust="spacingAndGlyphs">100</text>
<clipPath id="c7"><rect x="95.50" y="487.60" width="114.00" height="57.30"/></clipPath>
<g clip-path="url(#c7)">
<path d="M100.00,544.30 C101.47,544.25 106.47,544.43 108.80,544.00 C111.13,543.57 112.40,543.25 114.00,541.70 C115.60,540.15 117.08,537.92 118.40,534.70 C119.72,531.48 120.73,527.22 121.90,522.40 C123.07,517.58 124.38,510.32 125.40,505.80 C126.42,501.28 126.98,497.87 128.00,495.30 C129.02,492.73 130.33,490.70 131.50,490.40 C132.67,490.10 133.68,491.52 135.00,493.50 C136.32,495.48 137.93,499.08 139.40,502.30 C140.87,505.52 142.33,508.87 143.80,512.80 C145.27,516.73 146.73,522.10 148.20,525.90 C149.67,529.70 151.00,533.12 152.60,535.60 C154.20,538.08 155.77,539.58 157.80,540.80 C159.83,542.02 162.47,542.43 164.80,542.90 C167.13,543.37 169.75,543.72 171.80,543.60 C173.85,543.48 175.05,543.02 177.10,542.20 C179.15,541.38 181.77,539.80 184.10,538.70 C186.43,537.60 189.20,536.27 191.10,535.60 C193.00,534.93 194.03,534.57 195.50,534.70 C196.97,534.83 198.30,535.38 199.90,536.40 C201.50,537.42 203.50,539.60 205.10,540.80 C206.70,542.00 208.77,543.13 209.50,543.60 L209.50,544.90 L100.00,544.90 Z" fill="#c6dcec" stroke="none"/>
<line x1="100.00" y1="544.90" x2="209.50" y2="544.90" stroke="#1f77b4" stroke-width="1.9"/>
<path d="M100.00,544.30 C101.47,544.25 106.47,544.43 108.80,544.00 C111.13,543.57 112.40,543.25 114.00,541.70 C115.60,540.15 117.08,537.92 118.40,534.70 C119.72,531.48 120.73,527.22 121.90,522.40 C123.07,517.58 124.38,510.32 125.40,505.80 C126.42,501.28 126.98,497.87 128.00,495.30 C129.02,492.73 130.33,490.70 131.50,490.40 C132.67,490.10 133.68,491.52 135.00,493.50 C136.32,495.48 137.93,499.08 139.40,502.30 C140.87,505.52 142.33,508.87 143.80,512.80 C145.27,516.73 146.73,522.10 148.20,525.90 C149.67,529.70 151.00,533.12 152.60,535.60 C154.20,538.08 155.77,539.58 157.80,540.80 C159.83,542.02 162.47,542.43 164.80,542.90 C167.13,543.37 169.75,543.72 171.80,543.60 C173.85,543.48 175.05,543.02 177.10,542.20 C179.15,541.38 181.77,539.80 184.10,538.70 C186.43,537.60 189.20,536.27 191.10,535.60 C193.00,534.93 194.03,534.57 195.50,534.70 C196.97,534.83 198.30,535.38 199.90,536.40 C201.50,537.42 203.50,539.60 205.10,540.80 C206.70,542.00 208.77,543.13 209.50,543.60" fill="none" stroke="#1f77b4" stroke-width="1.9" stroke-linejoin="round" stroke-linecap="butt"/>
</g>
<rect x="95.50" y="487.60" width="114.00" height="57.30" fill="none" stroke="#6a6a6a" stroke-width="0.9"/>
<line x1="93.30" y1="544.80" x2="95.50" y2="544.80" stroke="#6a6a6a" stroke-width="0.9"/>
<text x="91.60" y="548.30" font-size="9.1" fill="#262626" text-anchor="end" textLength="18.26" lengthAdjust="spacingAndGlyphs">0.00</text>
<line x1="93.30" y1="518.60" x2="95.50" y2="518.60" stroke="#6a6a6a" stroke-width="0.9"/>
<text x="91.60" y="522.10" font-size="9.1" fill="#262626" text-anchor="end" textLength="18.26" lengthAdjust="spacingAndGlyphs">0.02</text>
<line x1="93.30" y1="492.90" x2="95.50" y2="492.90" stroke="#6a6a6a" stroke-width="0.9"/>
<text x="91.60" y="496.40" font-size="9.1" fill="#262626" text-anchor="end" textLength="18.26" lengthAdjust="spacingAndGlyphs">0.04</text>
<line x1="95.50" y1="544.90" x2="95.50" y2="547.10" stroke="#6a6a6a" stroke-width="0.9"/>
<text x="95.50" y="555.50" font-size="9.1" fill="#262626" text-anchor="middle" textLength="5.22" lengthAdjust="spacingAndGlyphs">0</text>
<line x1="124.00" y1="544.90" x2="124.00" y2="547.10" stroke="#6a6a6a" stroke-width="0.9"/>
<text x="124.00" y="555.50" font-size="9.1" fill="#262626" text-anchor="middle" textLength="10.43" lengthAdjust="spacingAndGlyphs">25</text>
<line x1="152.50" y1="544.90" x2="152.50" y2="547.10" stroke="#6a6a6a" stroke-width="0.9"/>
<text x="152.50" y="555.50" font-size="9.1" fill="#262626" text-anchor="middle" textLength="10.43" lengthAdjust="spacingAndGlyphs">50</text>
<line x1="181.00" y1="544.90" x2="181.00" y2="547.10" stroke="#6a6a6a" stroke-width="0.9"/>
<text x="181.00" y="555.50" font-size="9.1" fill="#262626" text-anchor="middle" textLength="10.43" lengthAdjust="spacingAndGlyphs">75</text>
<line x1="209.50" y1="544.90" x2="209.50" y2="547.10" stroke="#6a6a6a" stroke-width="0.9"/>
<text x="209.50" y="555.50" font-size="9.1" fill="#262626" text-anchor="middle" textLength="15.65" lengthAdjust="spacingAndGlyphs">100</text>
<clipPath id="c8"><rect x="247.30" y="487.60" width="113.20" height="57.30"/></clipPath>
<g clip-path="url(#c8)">
<path d="M254.20,544.50 C254.88,544.38 256.93,543.80 258.30,543.80 C259.67,543.80 261.22,544.50 262.40,544.50 C263.58,544.50 264.72,544.85 265.40,543.80 C266.08,542.75 266.15,541.87 266.50,538.20 C266.85,534.53 267.17,527.93 267.50,521.80 C267.83,515.67 268.17,506.63 268.50,501.40 C268.83,496.17 269.15,490.58 269.50,490.40 C269.85,490.22 270.25,495.23 270.60,500.30 C270.95,505.37 271.27,514.65 271.60,520.80 C271.93,526.95 272.23,533.37 272.60,537.20 C272.97,541.03 273.28,542.58 273.80,543.80 C274.32,545.02 274.53,544.58 275.70,544.50 C276.87,544.42 279.45,543.30 280.80,543.30 C282.15,543.30 280.57,544.30 283.80,544.50 C287.03,544.70 296.87,544.67 300.20,544.50 C303.53,544.33 302.43,543.50 303.80,543.50 C305.17,543.50 307.63,544.33 308.40,544.50 L308.40,544.90 L254.20,544.90 Z" fill="#c6dcec" stroke="none"/>
<line x1="254.20" y1="544.90" x2="308.40" y2="544.90" stroke="#1f77b4" stroke-width="1.9"/>
<path d="M254.20,544.50 C254.88,544.38 256.93,543.80 258.30,543.80 C259.67,543.80 261.22,544.50 262.40,544.50 C263.58,544.50 264.72,544.85 265.40,543.80 C266.08,542.75 266.15,541.87 266.50,538.20 C266.85,534.53 267.17,527.93 267.50,521.80 C267.83,515.67 268.17,506.63 268.50,501.40 C268.83,496.17 269.15,490.58 269.50,490.40 C269.85,490.22 270.25,495.23 270.60,500.30 C270.95,505.37 271.27,514.65 271.60,520.80 C271.93,526.95 272.23,533.37 272.60,537.20 C272.97,541.03 273.28,542.58 273.80,543.80 C274.32,545.02 274.53,544.58 275.70,544.50 C276.87,544.42 279.45,543.30 280.80,543.30 C282.15,543.30 280.57,544.30 283.80,544.50 C287.03,544.70 296.87,544.67 300.20,544.50 C303.53,544.33 302.43,543.50 303.80,543.50 C305.17,543.50 307.63,544.33 308.40,544.50" fill="none" stroke="#1f77b4" stroke-width="1.9" stroke-linejoin="round" stroke-linecap="butt"/>
</g>
<rect x="247.30" y="487.60" width="113.20" height="57.30" fill="none" stroke="#6a6a6a" stroke-width="0.9"/>
<line x1="245.10" y1="545.00" x2="247.30" y2="545.00" stroke="#6a6a6a" stroke-width="0.9"/>
<text x="243.40" y="548.50" font-size="9.1" fill="#262626" text-anchor="end" textLength="13.04" lengthAdjust="spacingAndGlyphs">0.0</text>
<line x1="245.10" y1="510.50" x2="247.30" y2="510.50" stroke="#6a6a6a" stroke-width="0.9"/>
<text x="243.40" y="514.00" font-size="9.1" fill="#262626" text-anchor="end" textLength="13.04" lengthAdjust="spacingAndGlyphs">0.2</text>
<line x1="247.30" y1="544.90" x2="247.30" y2="547.10" stroke="#6a6a6a" stroke-width="0.9"/>
<text x="247.30" y="555.50" font-size="9.1" fill="#262626" text-anchor="middle" textLength="5.22" lengthAdjust="spacingAndGlyphs">0</text>
<line x1="275.60" y1="544.90" x2="275.60" y2="547.10" stroke="#6a6a6a" stroke-width="0.9"/>
<text x="275.60" y="555.50" font-size="9.1" fill="#262626" text-anchor="middle" textLength="10.43" lengthAdjust="spacingAndGlyphs">25</text>
<line x1="303.90" y1="544.90" x2="303.90" y2="547.10" stroke="#6a6a6a" stroke-width="0.9"/>
<text x="303.90" y="555.50" font-size="9.1" fill="#262626" text-anchor="middle" textLength="10.43" lengthAdjust="spacingAndGlyphs">50</text>
<line x1="332.20" y1="544.90" x2="332.20" y2="547.10" stroke="#6a6a6a" stroke-width="0.9"/>
<text x="332.20" y="555.50" font-size="9.1" fill="#262626" text-anchor="middle" textLength="10.43" lengthAdjust="spacingAndGlyphs">75</text>
<line x1="360.50" y1="544.90" x2="360.50" y2="547.10" stroke="#6a6a6a" stroke-width="0.9"/>
<text x="360.50" y="555.50" font-size="9.1" fill="#262626" text-anchor="middle" textLength="15.65" lengthAdjust="spacingAndGlyphs">100</text>
<clipPath id="c9"><rect x="398.50" y="487.60" width="113.80" height="57.30"/></clipPath>
<g clip-path="url(#c9)">
<path d="M398.50,542.20 C399.25,541.53 401.37,539.75 403.00,538.20 C404.63,536.65 406.47,534.27 408.30,532.90 C410.13,531.53 412.25,530.00 414.00,530.00 C415.75,530.00 417.13,531.25 418.80,532.90 C420.47,534.55 422.25,538.08 424.00,539.90 C425.75,541.72 427.68,543.22 429.30,543.80 C430.92,544.38 432.25,544.48 433.70,543.40 C435.15,542.32 436.55,540.65 438.00,537.30 C439.45,533.95 440.93,528.55 442.40,523.30 C443.87,518.05 445.48,510.62 446.80,505.80 C448.12,500.98 449.13,496.97 450.30,494.40 C451.47,491.83 452.63,490.40 453.80,490.40 C454.97,490.40 456.13,491.25 457.30,494.40 C458.47,497.55 459.63,505.07 460.80,509.30 C461.97,513.53 463.27,517.70 464.30,519.80 C465.33,521.90 465.97,522.05 467.00,521.90 C468.03,521.75 469.33,519.75 470.50,518.90 C471.67,518.05 472.83,516.65 474.00,516.80 C475.17,516.95 476.20,517.98 477.50,519.80 C478.80,521.62 480.20,525.22 481.80,527.70 C483.40,530.18 485.05,532.67 487.10,534.70 C489.15,536.73 491.77,538.50 494.10,539.90 C496.43,541.30 498.07,542.37 501.10,543.10 C504.13,543.83 510.43,544.10 512.30,544.30 L512.30,544.90 L398.50,544.90 Z" fill="#c6dcec" stroke="none"/>
<line x1="398.50" y1="544.90" x2="512.30" y2="544.90" stroke="#1f77b4" stroke-width="1.9"/>
<path d="M398.50,542.20 C399.25,541.53 401.37,539.75 403.00,538.20 C404.63,536.65 406.47,534.27 408.30,532.90 C410.13,531.53 412.25,530.00 414.00,530.00 C415.75,530.00 417.13,531.25 418.80,532.90 C420.47,534.55 422.25,538.08 424.00,539.90 C425.75,541.72 427.68,543.22 429.30,543.80 C430.92,544.38 432.25,544.48 433.70,543.40 C435.15,542.32 436.55,540.65 438.00,537.30 C439.45,533.95 440.93,528.55 442.40,523.30 C443.87,518.05 445.48,510.62 446.80,505.80 C448.12,500.98 449.13,496.97 450.30,494.40 C451.47,491.83 452.63,490.40 453.80,490.40 C454.97,490.40 456.13,491.25 457.30,494.40 C458.47,497.55 459.63,505.07 460.80,509.30 C461.97,513.53 463.27,517.70 464.30,519.80 C465.33,521.90 465.97,522.05 467.00,521.90 C468.03,521.75 469.33,519.75 470.50,518.90 C471.67,518.05 472.83,516.65 474.00,516.80 C475.17,516.95 476.20,517.98 477.50,519.80 C478.80,521.62 480.20,525.22 481.80,527.70 C483.40,530.18 485.05,532.67 487.10,534.70 C489.15,536.73 491.77,538.50 494.10,539.90 C496.43,541.30 498.07,542.37 501.10,543.10 C504.13,543.83 510.43,544.10 512.30,544.30" fill="none" stroke="#1f77b4" stroke-width="1.9" stroke-linejoin="round" stroke-linecap="butt"/>
</g>
<rect x="398.50" y="487.60" width="113.80" height="57.30" fill="none" stroke="#6a6a6a" stroke-width="0.9"/>
<line x1="396.30" y1="544.60" x2="398.50" y2="544.60" stroke="#6a6a6a" stroke-width="0.9"/>
<text x="394.60" y="548.10" font-size="9.1" fill="#262626" text-anchor="end" textLength="18.26" lengthAdjust="spacingAndGlyphs">0.00</text>
<line x1="396.30" y1="512.80" x2="398.50" y2="512.80" stroke="#6a6a6a" stroke-width="0.9"/>
<text x="394.60" y="516.30" font-size="9.1" fill="#262626" text-anchor="end" textLength="18.26" lengthAdjust="spacingAndGlyphs">0.02</text>
<line x1="398.50" y1="544.90" x2="398.50" y2="547.10" stroke="#6a6a6a" stroke-width="0.9"/>
<text x="398.50" y="555.50" font-size="9.1" fill="#262626" text-anchor="middle" textLength="5.22" lengthAdjust="spacingAndGlyphs">0</text>
<line x1="426.95" y1="544.90" x2="426.95" y2="547.10" stroke="#6a6a6a" stroke-width="0.9"/>
<text x="426.95" y="555.50" font-size="9.1" fill="#262626" text-anchor="middle" textLength="10.43" lengthAdjust="spacingAndGlyphs">25</text>
<line x1="455.40" y1="544.90" x2="455.40" y2="547.10" stroke="#6a6a6a" stroke-width="0.9"/>
<text x="455.40" y="555.50" font-size="9.1" fill="#262626" text-anchor="middle" textLength="10.43" lengthAdjust="spacingAndGlyphs">50</text>
<line x1="483.85" y1="544.90" x2="483.85" y2="547.10" stroke="#6a6a6a" stroke-width="0.9"/>
<text x="483.85" y="555.50" font-size="9.1" fill="#262626" text-anchor="middle" textLength="10.43" lengthAdjust="spacingAndGlyphs">75</text>
<line x1="512.30" y1="544.90" x2="512.30" y2="547.10" stroke="#6a6a6a" stroke-width="0.9"/>
<text x="512.30" y="555.50" font-size="9.1" fill="#262626" text-anchor="middle" textLength="15.65" lengthAdjust="spacingAndGlyphs">100</text>
<clipPath id="c10"><rect x="550.10" y="487.60" width="113.70" height="57.30"/></clipPath>
<g clip-path="url(#c10)">
<path d="M553.70,544.20 C554.42,544.13 556.62,543.80 558.00,543.80 C559.38,543.80 555.00,544.13 562.00,544.20 C569.00,544.27 586.83,544.22 600.00,544.20 C613.17,544.18 633.40,544.25 641.00,544.10 C648.60,543.95 644.60,544.35 645.60,543.30 C646.60,542.25 646.55,541.00 647.00,537.80 C647.45,534.60 647.85,529.42 648.30,524.10 C648.75,518.78 649.23,511.07 649.70,505.90 C650.17,500.73 650.68,495.67 651.10,493.10 C651.52,490.53 651.82,490.50 652.20,490.50 C652.58,490.50 652.98,490.53 653.40,493.10 C653.82,495.67 654.25,500.73 654.70,505.90 C655.15,511.07 655.63,518.78 656.10,524.10 C656.57,529.42 657.05,534.57 657.50,537.80 C657.95,541.03 657.75,542.43 658.80,543.50 C659.85,544.57 662.97,544.08 663.80,544.20 L663.80,544.90 L553.70,544.90 Z" fill="#c6dcec" stroke="none"/>
<line x1="553.70" y1="544.90" x2="663.80" y2="544.90" stroke="#1f77b4" stroke-width="1.9"/>
<path d="M553.70,544.20 C554.42,544.13 556.62,543.80 558.00,543.80 C559.38,543.80 555.00,544.13 562.00,544.20 C569.00,544.27 586.83,544.22 600.00,544.20 C613.17,544.18 633.40,544.25 641.00,544.10 C648.60,543.95 644.60,544.35 645.60,543.30 C646.60,542.25 646.55,541.00 647.00,537.80 C647.45,534.60 647.85,529.42 648.30,524.10 C648.75,518.78 649.23,511.07 649.70,505.90 C650.17,500.73 650.68,495.67 651.10,493.10 C651.52,490.53 651.82,490.50 652.20,490.50 C652.58,490.50 652.98,490.53 653.40,493.10 C653.82,495.67 654.25,500.73 654.70,505.90 C655.15,511.07 655.63,518.78 656.10,524.10 C656.57,529.42 657.05,534.57 657.50,537.80 C657.95,541.03 657.75,542.43 658.80,543.50 C659.85,544.57 662.97,544.08 663.80,544.20" fill="none" stroke="#1f77b4" stroke-width="1.9" stroke-linejoin="round" stroke-linecap="butt"/>
</g>
<rect x="550.10" y="487.60" width="113.70" height="57.30" fill="none" stroke="#6a6a6a" stroke-width="0.9"/>
<line x1="547.90" y1="544.50" x2="550.10" y2="544.50" stroke="#6a6a6a" stroke-width="0.9"/>
<text x="546.20" y="548.00" font-size="9.1" fill="#262626" text-anchor="end" textLength="13.04" lengthAdjust="spacingAndGlyphs">0.0</text>
<line x1="547.90" y1="518.10" x2="550.10" y2="518.10" stroke="#6a6a6a" stroke-width="0.9"/>
<text x="546.20" y="521.60" font-size="9.1" fill="#262626" text-anchor="end" textLength="13.04" lengthAdjust="spacingAndGlyphs">0.1</text>
<line x1="547.90" y1="492.50" x2="550.10" y2="492.50" stroke="#6a6a6a" stroke-width="0.9"/>
<text x="546.20" y="496.00" font-size="9.1" fill="#262626" text-anchor="end" textLength="13.04" lengthAdjust="spacingAndGlyphs">0.2</text>
<line x1="550.10" y1="544.90" x2="550.10" y2="547.10" stroke="#6a6a6a" stroke-width="0.9"/>
<text x="550.10" y="555.50" font-size="9.1" fill="#262626" text-anchor="middle" textLength="5.22" lengthAdjust="spacingAndGlyphs">0</text>
<line x1="578.52" y1="544.90" x2="578.52" y2="547.10" stroke="#6a6a6a" stroke-width="0.9"/>
<text x="578.52" y="555.50" font-size="9.1" fill="#262626" text-anchor="middle" textLength="10.43" lengthAdjust="spacingAndGlyphs">25</text>
<line x1="606.95" y1="544.90" x2="606.95" y2="547.10" stroke="#6a6a6a" stroke-width="0.9"/>
<text x="606.95" y="555.50" font-size="9.1" fill="#262626" text-anchor="middle" textLength="10.43" lengthAdjust="spacingAndGlyphs">50</text>
<line x1="635.38" y1="544.90" x2="635.38" y2="547.10" stroke="#6a6a6a" stroke-width="0.9"/>
<text x="635.38" y="555.50" font-size="9.1" fill="#262626" text-anchor="middle" textLength="10.43" lengthAdjust="spacingAndGlyphs">75</text>
<line x1="663.80" y1="544.90" x2="663.80" y2="547.10" stroke="#6a6a6a" stroke-width="0.9"/>
<text x="663.80" y="555.50" font-size="9.1" fill="#262626" text-anchor="middle" textLength="15.65" lengthAdjust="spacingAndGlyphs">100</text>
<text x="0.00" y="583.20" font-size="16" font-weight="bold" fill="#000">f</text>
<polygon points="45.40,705.80 45.40,677.75 53.04,677.75 68.31,621.65 98.86,593.60 167.60,593.60 167.60,705.80 45.40,705.80" fill="#fff0f2"/>
<polygon points="45.40,705.80 83.59,649.70 129.41,621.65 129.41,593.60 167.60,593.60 167.60,705.80 45.40,705.80" fill="#e6e9f4"/>
<line x1="45.40" y1="705.80" x2="167.60" y2="593.60" stroke="#1c1c7c" stroke-width="1.4" stroke-dasharray="5.2,2.3"/>
<polyline points="45.40,705.80 45.40,677.75 53.04,677.75 68.31,621.65 98.86,593.60 167.60,593.60" fill="none" stroke="#ff1a1a" stroke-width="1.4" stroke-linejoin="miter"/>
<polyline points="45.40,705.80 83.59,649.70 129.41,621.65 129.41,593.60 167.60,593.60" fill="none" stroke="#1a1aff" stroke-width="1.4" stroke-linejoin="miter"/>
<rect x="45.40" y="587.40" width="122.20" height="118.40" fill="none" stroke="#262626" stroke-width="0.75"/>
<rect x="67.80" y="675.60" width="95.40" height="26.00" rx="2.2" fill="#ffffff" stroke="#d6d6d6" stroke-width="0.7" fill-opacity="0.8"/>
<line x1="70.10" y1="681.80" x2="88.20" y2="681.80" stroke="#ff1a1a" stroke-width="1.4"/>
<line x1="70.10" y1="694.00" x2="88.20" y2="694.00" stroke="#1a1aff" stroke-width="1.4"/>
<text x="94.50" y="684.90" font-size="8.97" fill="#262626" textLength="66.51" lengthAdjust="spacingAndGlyphs">AgentMD (0.86)</text>
<text x="94.50" y="697.30" font-size="8.97" fill="#262626" textLength="52.24" lengthAdjust="spacingAndGlyphs">GPT-4 (0.62)</text>
<line x1="43.20" y1="705.80" x2="45.40" y2="705.80" stroke="#262626" stroke-width="0.75"/>
<text x="41.70" y="708.80" font-size="8.97" fill="#262626" text-anchor="end" textLength="13.36" lengthAdjust="spacingAndGlyphs">0.0</text>
<line x1="43.20" y1="683.36" x2="45.40" y2="683.36" stroke="#262626" stroke-width="0.75"/>
<text x="41.70" y="686.36" font-size="8.97" fill="#262626" text-anchor="end" textLength="13.36" lengthAdjust="spacingAndGlyphs">0.2</text>
<line x1="43.20" y1="660.92" x2="45.40" y2="660.92" stroke="#262626" stroke-width="0.75"/>
<text x="41.70" y="663.92" font-size="8.97" fill="#262626" text-anchor="end" textLength="13.36" lengthAdjust="spacingAndGlyphs">0.4</text>
<line x1="43.20" y1="638.48" x2="45.40" y2="638.48" stroke="#262626" stroke-width="0.75"/>
<text x="41.70" y="641.48" font-size="8.97" fill="#262626" text-anchor="end" textLength="13.36" lengthAdjust="spacingAndGlyphs">0.6</text>
<line x1="43.20" y1="616.04" x2="45.40" y2="616.04" stroke="#262626" stroke-width="0.75"/>
<text x="41.70" y="619.04" font-size="8.97" fill="#262626" text-anchor="end" textLength="13.36" lengthAdjust="spacingAndGlyphs">0.8</text>
<line x1="43.20" y1="593.60" x2="45.40" y2="593.60" stroke="#262626" stroke-width="0.75"/>
<text x="41.70" y="596.60" font-size="8.97" fill="#262626" text-anchor="end" textLength="13.36" lengthAdjust="spacingAndGlyphs">1.0</text>
<line x1="45.40" y1="705.80" x2="45.40" y2="708.00" stroke="#262626" stroke-width="0.75"/>
<text x="45.40" y="716.60" font-size="8.97" fill="#262626" text-anchor="middle" textLength="18.70" lengthAdjust="spacingAndGlyphs">0.00</text>
<line x1="75.95" y1="705.80" x2="75.95" y2="708.00" stroke="#262626" stroke-width="0.75"/>
<text x="75.95" y="716.60" font-size="8.97" fill="#262626" text-anchor="middle" textLength="18.70" lengthAdjust="spacingAndGlyphs">0.25</text>
<line x1="106.50" y1="705.80" x2="106.50" y2="708.00" stroke="#262626" stroke-width="0.75"/>
<text x="106.50" y="716.60" font-size="8.97" fill="#262626" text-anchor="middle" textLength="18.70" lengthAdjust="spacingAndGlyphs">0.50</text>
<line x1="137.05" y1="705.80" x2="137.05" y2="708.00" stroke="#262626" stroke-width="0.75"/>
<text x="137.05" y="716.60" font-size="8.97" fill="#262626" text-anchor="middle" textLength="18.70" lengthAdjust="spacingAndGlyphs">0.75</text>
<line x1="167.60" y1="705.80" x2="167.60" y2="708.00" stroke="#262626" stroke-width="0.75"/>
<text x="167.60" y="716.60" font-size="8.97" fill="#262626" text-anchor="middle" textLength="18.70" lengthAdjust="spacingAndGlyphs">1.00</text>
<text x="106.50" y="727.10" font-size="8.97" fill="#262626" text-anchor="middle" textLength="78.07" lengthAdjust="spacingAndGlyphs">False Positive Rate</text>
<text x="0.00" y="0.00" font-size="8.97" fill="#262626" text-anchor="middle" textLength="74.83" lengthAdjust="spacingAndGlyphs" transform="translate(24.20,646.60) rotate(-90)">True Positive Rate</text>
<text x="106.50" y="584.10" font-size="10.68" fill="#262626" text-anchor="middle" textLength="137.56" lengthAdjust="spacingAndGlyphs">High-risk Varices Calculator</text>
<polygon points="213.20,705.80 216.62,705.80 216.62,689.76 225.05,689.76 251.57,609.64 309.62,593.60 335.40,593.60 335.40,705.80 213.20,705.80" fill="#fff0f2"/>
<polygon points="213.20,705.80 216.87,705.80 243.99,657.67 280.65,641.73 289.70,625.69 325.87,593.60 335.40,593.60 335.40,705.80 213.20,705.80" fill="#e6e9f4"/>
<line x1="213.20" y1="705.80" x2="335.40" y2="593.60" stroke="#1c1c7c" stroke-width="1.4" stroke-dasharray="5.2,2.3"/>
<polyline points="213.20,705.80 216.62,705.80 216.62,689.76 225.05,689.76 251.57,609.64 309.62,593.60 335.40,593.60" fill="none" stroke="#ff1a1a" stroke-width="1.4" stroke-linejoin="miter"/>
<polyline points="213.20,705.80 216.87,705.80 243.99,657.67 280.65,641.73 289.70,625.69 325.87,593.60 335.40,593.60" fill="none" stroke="#1a1aff" stroke-width="1.4" stroke-linejoin="miter"/>
<rect x="213.20" y="587.40" width="122.20" height="118.40" fill="none" stroke="#262626" stroke-width="0.75"/>
<rect x="235.60" y="675.60" width="95.40" height="26.00" rx="2.2" fill="#ffffff" stroke="#d6d6d6" stroke-width="0.7" fill-opacity="0.8"/>
<line x1="237.90" y1="681.80" x2="256.00" y2="681.80" stroke="#ff1a1a" stroke-width="1.4"/>
<line x1="237.90" y1="694.00" x2="256.00" y2="694.00" stroke="#1a1aff" stroke-width="1.4"/>
<text x="262.30" y="684.90" font-size="8.97" fill="#262626" textLength="66.51" lengthAdjust="spacingAndGlyphs">AgentMD (0.77)</text>
<text x="262.30" y="697.30" font-size="8.97" fill="#262626" textLength="52.24" lengthAdjust="spacingAndGlyphs">GPT-4 (0.58)</text>
<line x1="211.00" y1="705.80" x2="213.20" y2="705.80" stroke="#262626" stroke-width="0.75"/>
<text x="209.50" y="708.80" font-size="8.97" fill="#262626" text-anchor="end" textLength="13.36" lengthAdjust="spacingAndGlyphs">0.0</text>
<line x1="211.00" y1="683.36" x2="213.20" y2="683.36" stroke="#262626" stroke-width="0.75"/>
<text x="209.50" y="686.36" font-size="8.97" fill="#262626" text-anchor="end" textLength="13.36" lengthAdjust="spacingAndGlyphs">0.2</text>
<line x1="211.00" y1="660.92" x2="213.20" y2="660.92" stroke="#262626" stroke-width="0.75"/>
<text x="209.50" y="663.92" font-size="8.97" fill="#262626" text-anchor="end" textLength="13.36" lengthAdjust="spacingAndGlyphs">0.4</text>
<line x1="211.00" y1="638.48" x2="213.20" y2="638.48" stroke="#262626" stroke-width="0.75"/>
<text x="209.50" y="641.48" font-size="8.97" fill="#262626" text-anchor="end" textLength="13.36" lengthAdjust="spacingAndGlyphs">0.6</text>
<line x1="211.00" y1="616.04" x2="213.20" y2="616.04" stroke="#262626" stroke-width="0.75"/>
<text x="209.50" y="619.04" font-size="8.97" fill="#262626" text-anchor="end" textLength="13.36" lengthAdjust="spacingAndGlyphs">0.8</text>
<line x1="211.00" y1="593.60" x2="213.20" y2="593.60" stroke="#262626" stroke-width="0.75"/>
<text x="209.50" y="596.60" font-size="8.97" fill="#262626" text-anchor="end" textLength="13.36" lengthAdjust="spacingAndGlyphs">1.0</text>
<line x1="213.20" y1="705.80" x2="213.20" y2="708.00" stroke="#262626" stroke-width="0.75"/>
<text x="213.20" y="716.60" font-size="8.97" fill="#262626" text-anchor="middle" textLength="18.70" lengthAdjust="spacingAndGlyphs">0.00</text>
<line x1="243.75" y1="705.80" x2="243.75" y2="708.00" stroke="#262626" stroke-width="0.75"/>
<text x="243.75" y="716.60" font-size="8.97" fill="#262626" text-anchor="middle" textLength="18.70" lengthAdjust="spacingAndGlyphs">0.25</text>
<line x1="274.30" y1="705.80" x2="274.30" y2="708.00" stroke="#262626" stroke-width="0.75"/>
<text x="274.30" y="716.60" font-size="8.97" fill="#262626" text-anchor="middle" textLength="18.70" lengthAdjust="spacingAndGlyphs">0.50</text>
<line x1="304.85" y1="705.80" x2="304.85" y2="708.00" stroke="#262626" stroke-width="0.75"/>
<text x="304.85" y="716.60" font-size="8.97" fill="#262626" text-anchor="middle" textLength="18.70" lengthAdjust="spacingAndGlyphs">0.75</text>
<line x1="335.40" y1="705.80" x2="335.40" y2="708.00" stroke="#262626" stroke-width="0.75"/>
<text x="335.40" y="716.60" font-size="8.97" fill="#262626" text-anchor="middle" textLength="18.70" lengthAdjust="spacingAndGlyphs">1.00</text>
<text x="274.30" y="727.10" font-size="8.97" fill="#262626" text-anchor="middle" textLength="78.07" lengthAdjust="spacingAndGlyphs">False Positive Rate</text>
<text x="0.00" y="0.00" font-size="8.97" fill="#262626" text-anchor="middle" textLength="74.83" lengthAdjust="spacingAndGlyphs" transform="translate(192.00,646.60) rotate(-90)">True Positive Rate</text>
<text x="274.30" y="584.10" font-size="10.68" fill="#262626" text-anchor="middle" textLength="132.28" lengthAdjust="spacingAndGlyphs">Functional Morbidity Index</text>
<polygon points="381.00,705.80 381.00,638.48 399.33,593.60 503.20,593.60 503.20,705.80 381.00,705.80" fill="#fff0f2"/>
<polygon points="381.00,705.80 387.11,660.92 429.88,616.04 466.54,593.60 503.20,593.60 503.20,705.80 381.00,705.80" fill="#e6e9f4"/>
<line x1="381.00" y1="705.80" x2="503.20" y2="593.60" stroke="#1c1c7c" stroke-width="1.4" stroke-dasharray="5.2,2.3"/>
<polyline points="381.00,705.80 381.00,638.48 399.33,593.60 503.20,593.60" fill="none" stroke="#ff1a1a" stroke-width="1.4" stroke-linejoin="miter"/>
<polyline points="381.00,705.80 387.11,660.92 429.88,616.04 466.54,593.60 503.20,593.60" fill="none" stroke="#1a1aff" stroke-width="1.4" stroke-linejoin="miter"/>
<rect x="381.00" y="587.40" width="122.20" height="118.40" fill="none" stroke="#262626" stroke-width="0.75"/>
<rect x="403.40" y="675.60" width="95.40" height="26.00" rx="2.2" fill="#ffffff" stroke="#d6d6d6" stroke-width="0.7" fill-opacity="0.8"/>
<line x1="405.70" y1="681.80" x2="423.80" y2="681.80" stroke="#ff1a1a" stroke-width="1.4"/>
<line x1="405.70" y1="694.00" x2="423.80" y2="694.00" stroke="#1a1aff" stroke-width="1.4"/>
<text x="430.10" y="684.90" font-size="8.97" fill="#262626" textLength="66.51" lengthAdjust="spacingAndGlyphs">AgentMD (0.97)</text>
<text x="430.10" y="697.30" font-size="8.97" fill="#262626" textLength="52.24" lengthAdjust="spacingAndGlyphs">GPT-4 (0.79)</text>
<line x1="378.80" y1="705.80" x2="381.00" y2="705.80" stroke="#262626" stroke-width="0.75"/>
<text x="377.30" y="708.80" font-size="8.97" fill="#262626" text-anchor="end" textLength="13.36" lengthAdjust="spacingAndGlyphs">0.0</text>
<line x1="378.80" y1="683.36" x2="381.00" y2="683.36" stroke="#262626" stroke-width="0.75"/>
<text x="377.30" y="686.36" font-size="8.97" fill="#262626" text-anchor="end" textLength="13.36" lengthAdjust="spacingAndGlyphs">0.2</text>
<line x1="378.80" y1="660.92" x2="381.00" y2="660.92" stroke="#262626" stroke-width="0.75"/>
<text x="377.30" y="663.92" font-size="8.97" fill="#262626" text-anchor="end" textLength="13.36" lengthAdjust="spacingAndGlyphs">0.4</text>
<line x1="378.80" y1="638.48" x2="381.00" y2="638.48" stroke="#262626" stroke-width="0.75"/>
<text x="377.30" y="641.48" font-size="8.97" fill="#262626" text-anchor="end" textLength="13.36" lengthAdjust="spacingAndGlyphs">0.6</text>
<line x1="378.80" y1="616.04" x2="381.00" y2="616.04" stroke="#262626" stroke-width="0.75"/>
<text x="377.30" y="619.04" font-size="8.97" fill="#262626" text-anchor="end" textLength="13.36" lengthAdjust="spacingAndGlyphs">0.8</text>
<line x1="378.80" y1="593.60" x2="381.00" y2="593.60" stroke="#262626" stroke-width="0.75"/>
<text x="377.30" y="596.60" font-size="8.97" fill="#262626" text-anchor="end" textLength="13.36" lengthAdjust="spacingAndGlyphs">1.0</text>
<line x1="381.00" y1="705.80" x2="381.00" y2="708.00" stroke="#262626" stroke-width="0.75"/>
<text x="381.00" y="716.60" font-size="8.97" fill="#262626" text-anchor="middle" textLength="18.70" lengthAdjust="spacingAndGlyphs">0.00</text>
<line x1="411.55" y1="705.80" x2="411.55" y2="708.00" stroke="#262626" stroke-width="0.75"/>
<text x="411.55" y="716.60" font-size="8.97" fill="#262626" text-anchor="middle" textLength="18.70" lengthAdjust="spacingAndGlyphs">0.25</text>
<line x1="442.10" y1="705.80" x2="442.10" y2="708.00" stroke="#262626" stroke-width="0.75"/>
<text x="442.10" y="716.60" font-size="8.97" fill="#262626" text-anchor="middle" textLength="18.70" lengthAdjust="spacingAndGlyphs">0.50</text>
<line x1="472.65" y1="705.80" x2="472.65" y2="708.00" stroke="#262626" stroke-width="0.75"/>
<text x="472.65" y="716.60" font-size="8.97" fill="#262626" text-anchor="middle" textLength="18.70" lengthAdjust="spacingAndGlyphs">0.75</text>
<line x1="503.20" y1="705.80" x2="503.20" y2="708.00" stroke="#262626" stroke-width="0.75"/>
<text x="503.20" y="716.60" font-size="8.97" fill="#262626" text-anchor="middle" textLength="18.70" lengthAdjust="spacingAndGlyphs">1.00</text>
<text x="442.10" y="727.10" font-size="8.97" fill="#262626" text-anchor="middle" textLength="78.07" lengthAdjust="spacingAndGlyphs">False Positive Rate</text>
<text x="0.00" y="0.00" font-size="8.97" fill="#262626" text-anchor="middle" textLength="74.83" lengthAdjust="spacingAndGlyphs" transform="translate(359.80,646.60) rotate(-90)">True Positive Rate</text>
<text x="442.10" y="584.10" font-size="10.68" fill="#262626" text-anchor="middle" textLength="115.70" lengthAdjust="spacingAndGlyphs">NSTEMI Risk Calculator</text>
<polygon points="549.20,705.80 549.20,671.24 557.39,671.24 557.39,653.96 565.45,653.96 589.89,628.16 589.89,610.88 655.15,593.60 671.40,593.60 671.40,705.80 549.20,705.80" fill="#fff0f2"/>
<polygon points="549.20,705.80 565.45,671.24 614.33,636.80 638.77,610.88 638.77,602.24 655.15,593.60 671.40,593.60 671.40,705.80 549.20,705.80" fill="#e6e9f4"/>
<line x1="549.20" y1="705.80" x2="671.40" y2="593.60" stroke="#1c1c7c" stroke-width="1.4" stroke-dasharray="5.2,2.3"/>
<polyline points="549.20,705.80 549.20,671.24 557.39,671.24 557.39,653.96 565.45,653.96 589.89,628.16 589.89,610.88 655.15,593.60 671.40,593.60" fill="none" stroke="#ff1a1a" stroke-width="1.4" stroke-linejoin="miter"/>
<polyline points="549.20,705.80 565.45,671.24 614.33,636.80 638.77,610.88 638.77,602.24 655.15,593.60 671.40,593.60" fill="none" stroke="#1a1aff" stroke-width="1.4" stroke-linejoin="miter"/>
<rect x="549.20" y="587.40" width="122.20" height="118.40" fill="none" stroke="#262626" stroke-width="0.75"/>
<rect x="571.60" y="675.60" width="95.40" height="26.00" rx="2.2" fill="#ffffff" stroke="#d6d6d6" stroke-width="0.7" fill-opacity="0.8"/>
<line x1="573.90" y1="681.80" x2="592.00" y2="681.80" stroke="#ff1a1a" stroke-width="1.4"/>
<line x1="573.90" y1="694.00" x2="592.00" y2="694.00" stroke="#1a1aff" stroke-width="1.4"/>
<text x="598.30" y="684.90" font-size="8.97" fill="#262626" textLength="66.51" lengthAdjust="spacingAndGlyphs">AgentMD (0.79)</text>
<text x="598.30" y="697.30" font-size="8.97" fill="#262626" textLength="52.24" lengthAdjust="spacingAndGlyphs">GPT-4 (0.61)</text>
<line x1="547.00" y1="705.80" x2="549.20" y2="705.80" stroke="#262626" stroke-width="0.75"/>
<text x="545.50" y="708.80" font-size="8.97" fill="#262626" text-anchor="end" textLength="13.36" lengthAdjust="spacingAndGlyphs">0.0</text>
<line x1="547.00" y1="683.36" x2="549.20" y2="683.36" stroke="#262626" stroke-width="0.75"/>
<text x="545.50" y="686.36" font-size="8.97" fill="#262626" text-anchor="end" textLength="13.36" lengthAdjust="spacingAndGlyphs">0.2</text>
<line x1="547.00" y1="660.92" x2="549.20" y2="660.92" stroke="#262626" stroke-width="0.75"/>
<text x="545.50" y="663.92" font-size="8.97" fill="#262626" text-anchor="end" textLength="13.36" lengthAdjust="spacingAndGlyphs">0.4</text>
<line x1="547.00" y1="638.48" x2="549.20" y2="638.48" stroke="#262626" stroke-width="0.75"/>
<text x="545.50" y="641.48" font-size="8.97" fill="#262626" text-anchor="end" textLength="13.36" lengthAdjust="spacingAndGlyphs">0.6</text>
<line x1="547.00" y1="616.04" x2="549.20" y2="616.04" stroke="#262626" stroke-width="0.75"/>
<text x="545.50" y="619.04" font-size="8.97" fill="#262626" text-anchor="end" textLength="13.36" lengthAdjust="spacingAndGlyphs">0.8</text>
<line x1="547.00" y1="593.60" x2="549.20" y2="593.60" stroke="#262626" stroke-width="0.75"/>
<text x="545.50" y="596.60" font-size="8.97" fill="#262626" text-anchor="end" textLength="13.36" lengthAdjust="spacingAndGlyphs">1.0</text>
<line x1="549.20" y1="705.80" x2="549.20" y2="708.00" stroke="#262626" stroke-width="0.75"/>
<text x="549.20" y="716.60" font-size="8.97" fill="#262626" text-anchor="middle" textLength="18.70" lengthAdjust="spacingAndGlyphs">0.00</text>
<line x1="579.75" y1="705.80" x2="579.75" y2="708.00" stroke="#262626" stroke-width="0.75"/>
<text x="579.75" y="716.60" font-size="8.97" fill="#262626" text-anchor="middle" textLength="18.70" lengthAdjust="spacingAndGlyphs">0.25</text>
<line x1="610.30" y1="705.80" x2="610.30" y2="708.00" stroke="#262626" stroke-width="0.75"/>
<text x="610.30" y="716.60" font-size="8.97" fill="#262626" text-anchor="middle" textLength="18.70" lengthAdjust="spacingAndGlyphs">0.50</text>
<line x1="640.85" y1="705.80" x2="640.85" y2="708.00" stroke="#262626" stroke-width="0.75"/>
<text x="640.85" y="716.60" font-size="8.97" fill="#262626" text-anchor="middle" textLength="18.70" lengthAdjust="spacingAndGlyphs">0.75</text>
<line x1="671.40" y1="705.80" x2="671.40" y2="708.00" stroke="#262626" stroke-width="0.75"/>
<text x="671.40" y="716.60" font-size="8.97" fill="#262626" text-anchor="middle" textLength="18.70" lengthAdjust="spacingAndGlyphs">1.00</text>
<text x="610.30" y="727.10" font-size="8.97" fill="#262626" text-anchor="middle" textLength="78.07" lengthAdjust="spacingAndGlyphs">False Positive Rate</text>
<text x="0.00" y="0.00" font-size="8.97" fill="#262626" text-anchor="middle" textLength="74.83" lengthAdjust="spacingAndGlyphs" transform="translate(528.00,646.60) rotate(-90)">True Positive Rate</text>
<text x="610.30" y="584.10" font-size="10.68" fill="#262626" text-anchor="middle" textLength="71.49" lengthAdjust="spacingAndGlyphs">IFD Risk Score</text>
</svg>
</body></html>
